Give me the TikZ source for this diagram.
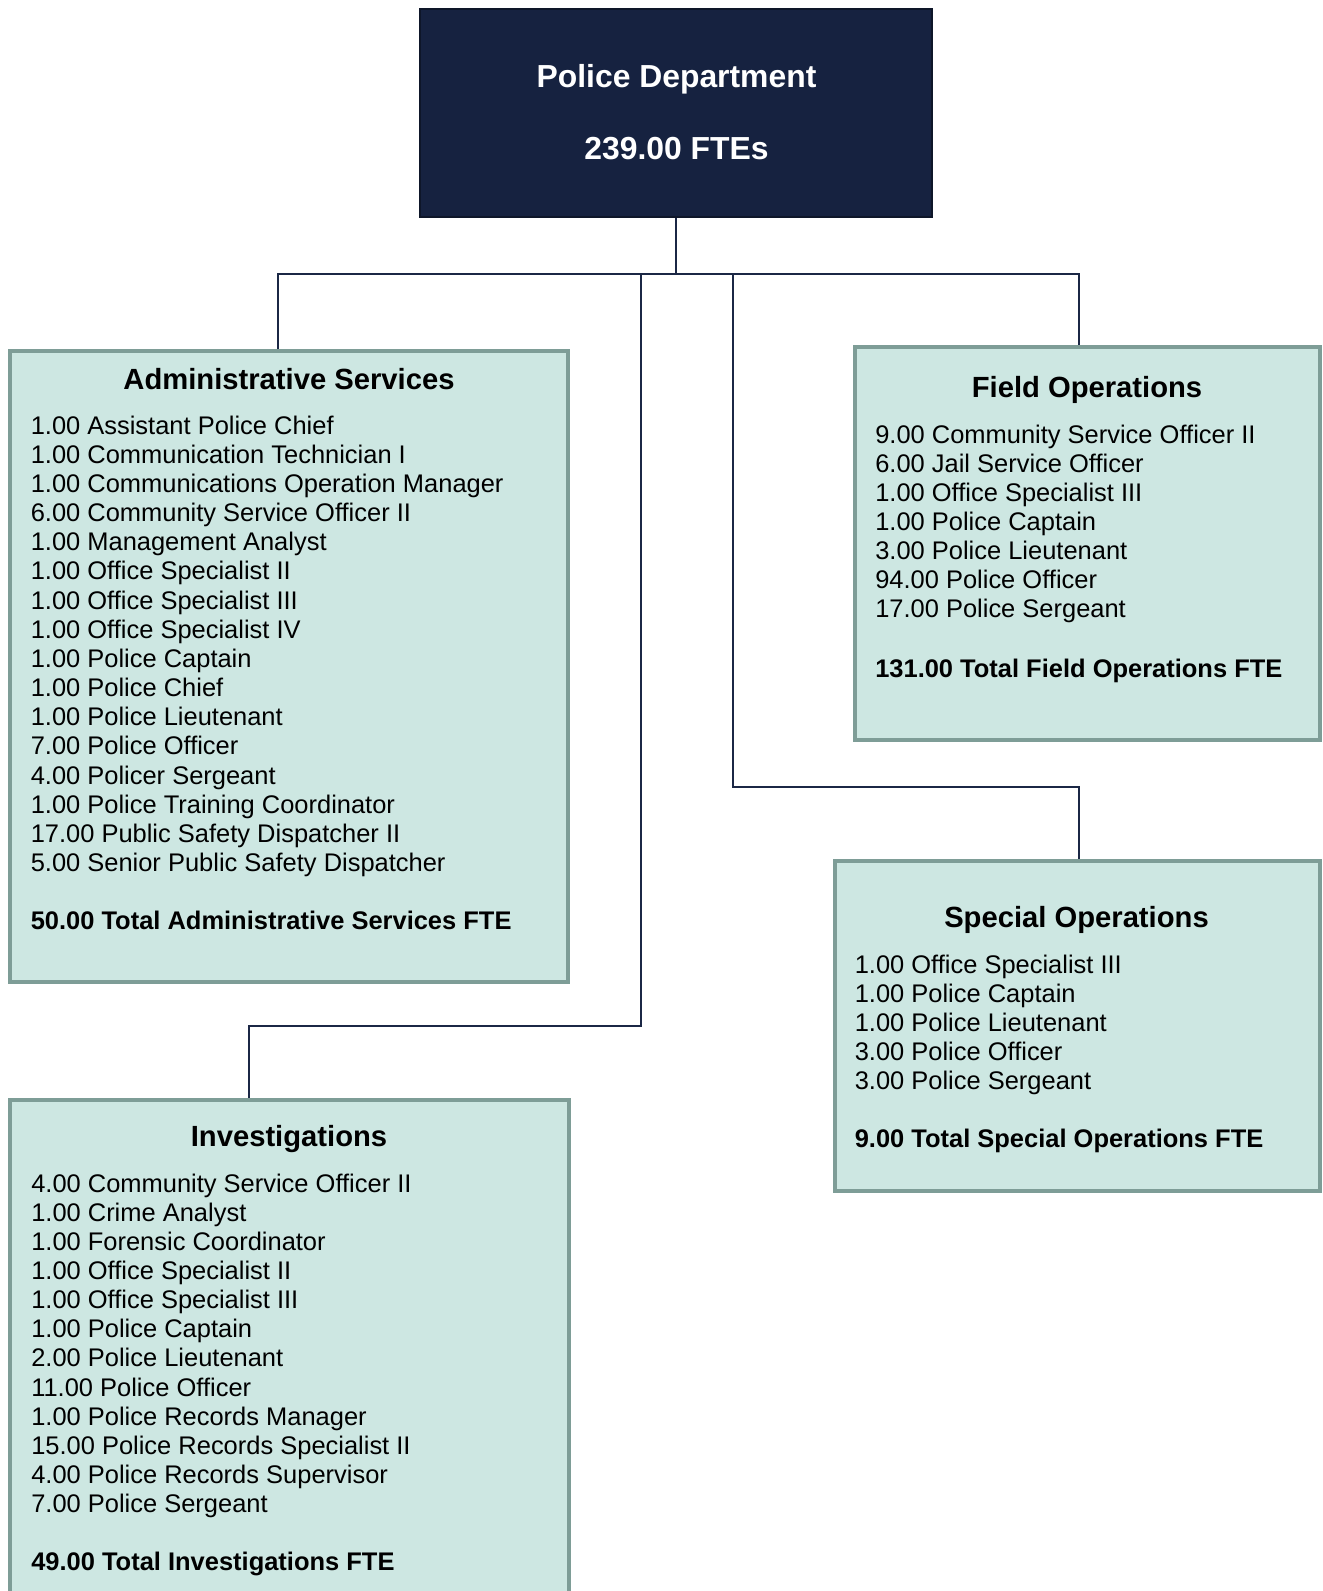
\documentclass[tikz,border=0pt]{standalone}
\usepackage{fontspec}
\setmainfont{Liberation Sans}
\usetikzlibrary{fit}
\definecolor{navy}{RGB}{22,34,64}
\definecolor{navyedge}{RGB}{14,22,41}
\definecolor{tealfill}{RGB}{205,231,226}
\definecolor{tealedge}{RGB}{126,157,151}
\definecolor{linecol}{RGB}{27,39,69}
\begin{document}
\begin{tikzpicture}[x=0.75pt,y=-0.75pt,
 topbox/.style={draw=navyedge, fill=navy, line width=2pt, inner sep=0pt},
 unitbox/.style={draw=tealedge, fill=tealfill, line width=3pt, inner sep=0pt},
 conn/.style={draw=linecol, line width=1.5pt},
 item/.style={anchor=base west, inner sep=0pt, font=\fontsize{19.1}{22}\selectfont},
 total/.style={anchor=base west, inner sep=0pt, font=\fontsize{19.1}{22}\selectfont\bfseries},
 title/.style={anchor=base, inner sep=0pt, font=\fontsize{21.9}{26}\selectfont\bfseries},
 toptext/.style={anchor=base, inner sep=0pt, text=white, font=\fontsize{23.9}{28}\selectfont\bfseries}]
\useasboundingbox (0,0) rectangle (1322,1591);

% boxes
\node[topbox, fit={(420,9) (932,217)}] (top) {};
\node[unitbox, fit={(10,351) (568,982)}] (admin) {};
\node[unitbox, fit={(855,347) (1320,740)}] (field) {};
\node[unitbox, fit={(835,861) (1320,1191)}] (special) {};
\node[unitbox, fit={(10,1100) (569,1620)}] (invest) {};

% top text
\node[toptext] (toptitle) at (676.5,88) {Police Department};
\node[toptext] (topfte) at (676.5,160) {239.00 FTEs};

% Administrative Services
\node[title] (admintitle) at (289,389) {Administrative Services};
\foreach [count=\i from 0] \t in {1.00 Assistant Police Chief,1.00 Communication Technician I,1.00 Communications Operation Manager,6.00 Community Service Officer II,1.00 Management Analyst,1.00 Office Specialist II,1.00 Office Specialist III,1.00 Office Specialist IV,1.00 Police Captain,1.00 Police Chief,1.00 Police Lieutenant,7.00 Police Officer,4.00 Policer Sergeant,1.00 Police Training Coordinator,17.00 Public Safety Dispatcher II,5.00 Senior Public Safety Dispatcher}
  \node[item] (adm\i) at (30.5,434+29.17*\i) {\t};
\node[total] (admintotal) at (30.5,929) {50.00 Total Administrative Services FTE};

% Field Operations
\node[title] (fieldtitle) at (1087,397) {Field Operations};
\foreach [count=\i from 0] \t in {9.00 Community Service Officer II,6.00 Jail Service Officer,1.00 Office Specialist III,1.00 Police Captain,3.00 Police Lieutenant,94.00 Police Officer,17.00 Police Sergeant}
  \node[item] (fld\i) at (875,443+29.1*\i) {\t};
\node[total] (fieldtotal) at (875,677) {131.00 Total Field Operations FTE};

% Special Operations
\node[title] (specialtitle) at (1076.5,927) {Special Operations};
\foreach [count=\i from 0] \t in {1.00 Office Specialist III,1.00 Police Captain,1.00 Police Lieutenant,3.00 Police Officer,3.00 Police Sergeant}
  \node[item] (spc\i) at (854.5,973+29.17*\i) {\t};
\node[total] (specialtotal) at (854.5,1147) {9.00 Total Special Operations FTE};

% Investigations
\node[title] (investtitle) at (289,1146) {Investigations};
\foreach [count=\i from 0] \t in {4.00 Community Service Officer II,1.00 Crime Analyst,1.00 Forensic Coordinator,1.00 Office Specialist II,1.00 Office Specialist III,1.00 Police Captain,2.00 Police Lieutenant,11.00 Police Officer,1.00 Police Records Manager,15.00 Police Records Specialist II,4.00 Police Records Supervisor,7.00 Police Sergeant}
  \node[item] (inv\i) at (31,1192+29.15*\i) {\t};
\node[total] (investtotal) at (31,1570) {49.00 Total Investigations FTE};

% connectors
\coordinate (busL) at (278,274);
\coordinate (busR) at (1079,274);
\coordinate (invA) at (641,274);
\coordinate (invB) at (641,1026);
\coordinate (invC) at (249,1026);
\coordinate (spA) at (733,274);
\coordinate (spB) at (733,787);
\coordinate (spC) at (1079,787);
\draw[conn] (top.south) -- (top.south |- busL);
\draw[conn] (busL |- admin.north) -- (busL) -- (busR) -- (busR |- field.north);
\draw[conn] (invA) -- (invB) -- (invC) -- (invC |- invest.north);
\draw[conn] (spA) -- (spB) -- (spC) -- (spC |- special.north);
\end{tikzpicture}
\end{document}
